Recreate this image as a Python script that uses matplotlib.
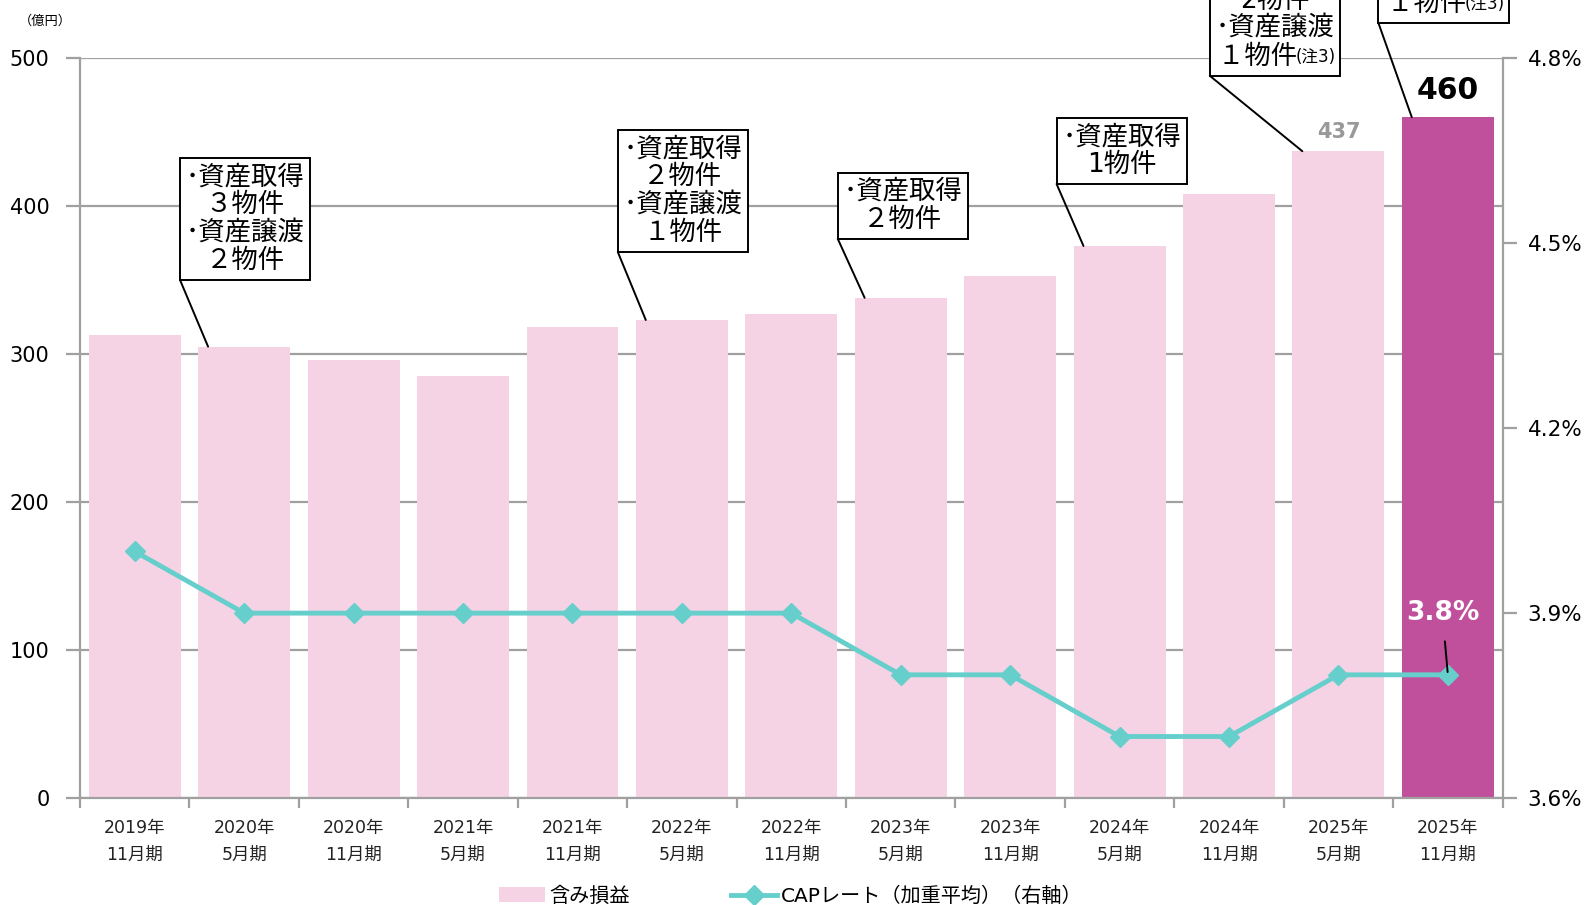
import numpy as np
import matplotlib
matplotlib.use("Agg")
from matplotlib import pyplot as plt
from matplotlib.text import OffsetFrom

plt.rcParams['font.family'] = ['DejaVu Sans', 'Noto Sans CJK JP']

periods = ["2019年\n11月期", "2020年\n5月期", "2020年\n11月期", "2021年\n5月期",
           "2021年\n11月期", "2022年\n5月期", "2022年\n11月期", "2023年\n5月期",
           "2023年\n11月期", "2024年\n5月期", "2024年\n11月期", "2025年\n5月期",
           "2025年\n11月期"]
gains = [313, 305, 296, 285, 318, 323, 327, 338, 353, 373, 408, 437, 460]
cap_rate = [4.0, 3.9, 3.9, 3.9, 3.9, 3.9, 3.9, 3.8, 3.8, 3.7, 3.7, 3.8, 3.8]

# callouts: text, period index of the bar they point at, has footnote
notes = [
    ("･資産取得\n３物件\n･資産譲渡\n２物件", 1, False),
    ("･資産取得\n２物件\n･資産譲渡\n１物件", 5, False),
    ("･資産取得\n２物件", 7, False),
    ("･資産取得\n1物件", 9, False),
    ("･資産取得\n2物件\n･資産譲渡\n１物件　 ", 11, True),
    ("･資産取得\n１物件　 ", 12, True),
]
# box centre (x in period units, y in 億円)
note_pos = [(1.01, 391), (5.01, 410), (7.02, 400), (9.02, 437), (10.42, 529), (11.96, 546)]

PINK = "#f5d3e4"
MAGENTA = "#c0509c"
TEAL = "#66cfcc"
GREY = "#a0a0a0"

fig = plt.figure(figsize=(15.85, 9.05), dpi=100)
ax = fig.add_axes([0.0505, 0.118, 0.8975, 0.818])
ax2 = ax.twinx()

x = np.arange(len(periods))
colors = [PINK] * (len(x) - 1) + [MAGENTA]
ax.bar(x, gains, width=0.84, color=colors, zorder=2, label="含み損益")
ax.set_xlim(-0.5, len(x) - 0.5)
ax.set_ylim(0, 500)
ax.set_yticks(range(0, 501, 100))
ax.yaxis.grid(True, color=GREY, linewidth=1.6, zorder=1)
ax.set_axisbelow(True)
ax.set_xticks(x)
ax.set_xticklabels(periods, fontsize=12.5, linespacing=1.6, color="#222222")
ax.set_xticks(np.arange(-0.5, len(x), 1), minor=True)
ax.tick_params(axis='x', which='major', length=0, pad=15)
ax.tick_params(axis='x', which='minor', length=7, width=1.6, color=GREY)
ax.tick_params(axis='y', length=10, width=1.6, color=GREY, labelsize=15, pad=12)

ax2.plot(x, cap_rate, color=TEAL, linewidth=3.5, marker='D', markersize=10,
         zorder=3, label="CAPレート（加重平均）（右軸）")
ax2.set_ylim(3.6, 4.8)
ax2.set_yticks([3.6, 3.9, 4.2, 4.5, 4.8])
ax2.set_yticklabels(["3.6%", "3.9%", "4.2%", "4.5%", "4.8%"])
ax2.tick_params(axis='y', length=10, width=1.6, color=GREY, labelsize=15.5, pad=8)

for a in (ax, ax2):
    for s in a.spines.values():
        s.set_visible(False)
        s.set_color(GREY)
        s.set_linewidth(1.6)
ax.spines['left'].set_visible(True)
ax.spines['bottom'].set_visible(True)
ax2.spines['right'].set_visible(True)

FS = 19
PAD = 0.22
for (txt, i, foot), (bx, by) in zip(notes, note_pos):
    t = ax2.text(bx, by, txt, transform=ax.transData, ha='center', va='center',
                 fontsize=FS, linespacing=1.1, clip_on=False, zorder=6,
                 bbox=dict(boxstyle=f'square,pad={PAD}', fc='white', ec='black', lw=1.4))
    # leader line from the box's lower-left corner to the bar top
    ax2.annotate("", xy=(i - 0.33, gains[i]), xycoords=ax.transData,
                 xytext=(-PAD * FS, -PAD * FS), textcoords=OffsetFrom(t, (0, 0)),
                 annotation_clip=False, zorder=5,
                 arrowprops=dict(arrowstyle='-', color='black', lw=1.4,
                                 shrinkA=0, shrinkB=0))
    if foot:
        ax2.annotate("(注3)", xy=(1, 0), xycoords=t, xytext=(1, 3),
                     textcoords='offset points', ha='right', va='bottom',
                     fontsize=12, annotation_clip=False, zorder=7)

ax.text(11, gains[11] + 6, str(gains[11]), ha='center', va='bottom',
        fontsize=15, fontweight='bold', color="#999999")
ax.text(12, gains[12] + 8, str(gains[12]), ha='center', va='bottom',
        fontsize=21.5, fontweight='bold', color="black")

ax2.annotate(f"{cap_rate[12]:.1f}%", xy=(12, cap_rate[12]), xytext=(11.95, 3.90),
             ha='center', va='center', fontsize=19, fontweight='bold', color='white',
             zorder=5, arrowprops=dict(arrowstyle='-', color='black', lw=1.4,
                                       shrinkA=9, shrinkB=2))

fig.text(0.012, 0.977, "（億円）", fontsize=9.5, ha='left', va='center')

h1, l1 = ax.get_legend_handles_labels()
h2, l2 = ax2.get_legend_handles_labels()
fig.legend(h1 + h2, l1 + l2, loc='center', bbox_to_anchor=(0.499, 0.010),
           ncol=2, frameon=False, fontsize=14.5, columnspacing=5.0,
           handlelength=2.3, handletextpad=0.2)

fig.savefig("out.png", dpi=100)
